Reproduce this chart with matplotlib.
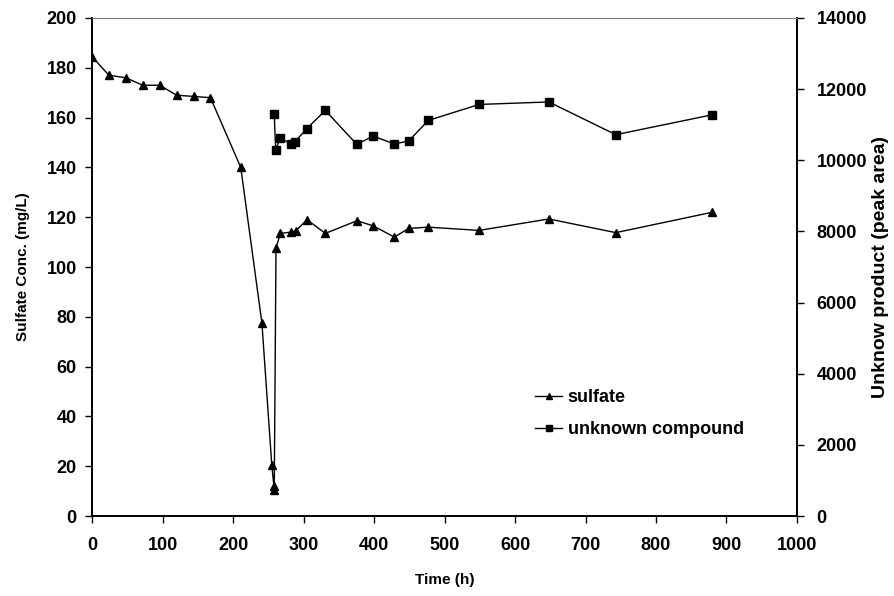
import matplotlib

matplotlib.use("Agg")
import matplotlib.pyplot as plt

plt.rcParams["font.family"] = ["Liberation Sans", "DejaVu Sans"]
plt.rcParams["font.weight"] = "bold"

# sulfate concentration (mg/L) vs time (h)
sulfate_time = [0, 24, 48, 72, 96, 120, 144, 168, 211, 241, 255, 258, 258.5,
                261, 267, 282, 289, 305, 331, 376, 399, 429, 449, 477, 549,
                648, 743, 880]
sulfate_conc = [184.5, 177, 176, 173, 173, 169, 168.5, 168, 140, 77.5, 20.5,
                12, 10.3, 107.5, 113.5, 114, 114.5, 119, 113.5, 118.6, 116.5,
                112, 115.5, 116, 114.7, 119.3, 113.8, 122]

# unknown compound (peak area) vs time (h)
unknown_time = [258.5, 260.5, 267, 282, 288, 304.5, 331, 375.5, 399, 428.5,
                449, 477, 549, 648, 743, 880]
unknown_area = [11300, 10290, 10630, 10460, 10520, 10890, 11400, 10450,
                10680, 10460, 10540, 11120, 11570, 11640, 10720, 11280]

x_ticks = list(range(0, 1001, 100))
left_ticks = list(range(0, 201, 20))
right_ticks = list(range(0, 14001, 2000))

fig = plt.figure(figsize=(8.95, 5.96), dpi=100)
ax = fig.add_axes([0.1028, 0.1342, 0.7877, 0.8356])
ax2 = ax.twinx()

(l1,) = ax.plot(sulfate_time, sulfate_conc, color="black", linewidth=1,
                marker="^", markersize=6, label="sulfate")
(l2,) = ax2.plot(unknown_time, unknown_area, color="black", linewidth=1,
                 marker="s", markersize=5.5, label="unknown compound")

ax.set_xlim(0, 1000)
ax.set_ylim(0, 200)
ax2.set_ylim(0, 14000)
ax.set_xticks(x_ticks)
ax.set_yticks(left_ticks)
ax2.set_yticks(right_ticks)

for a in (ax, ax2):
    a.tick_params(direction="out", length=5, width=1, labelsize=13, pad=6)
    for lab in a.get_xticklabels() + a.get_yticklabels():
        lab.set_fontweight("bold")
    a.spines["top"].set_color("#808080")
    for side in ("left", "right", "bottom"):
        a.spines[side].set_linewidth(1.2)
ax.tick_params(axis="x", pad=10)
ax2.tick_params(axis="y", pad=9)

ax.set_xlabel("Time (h)", fontsize=11, fontweight="bold", labelpad=14)
ax.set_ylabel("Sulfate Conc. (mg/L)", fontsize=11, fontweight="bold",
              labelpad=12)
ax2.set_ylabel("Unknow product (peak area)", fontsize=14, fontweight="bold",
               labelpad=4)

ax.legend([l1, l2], ["sulfate", "unknown compound"], frameon=False,
          loc="upper left", bbox_to_anchor=(0.629, 0.255), borderpad=0,
          borderaxespad=0, handlelength=1.45, handletextpad=0.33,
          labelspacing=0.83, markerscale=0.75,
          prop={"weight": "bold", "size": 13})

fig.savefig("out.png", dpi=100)
